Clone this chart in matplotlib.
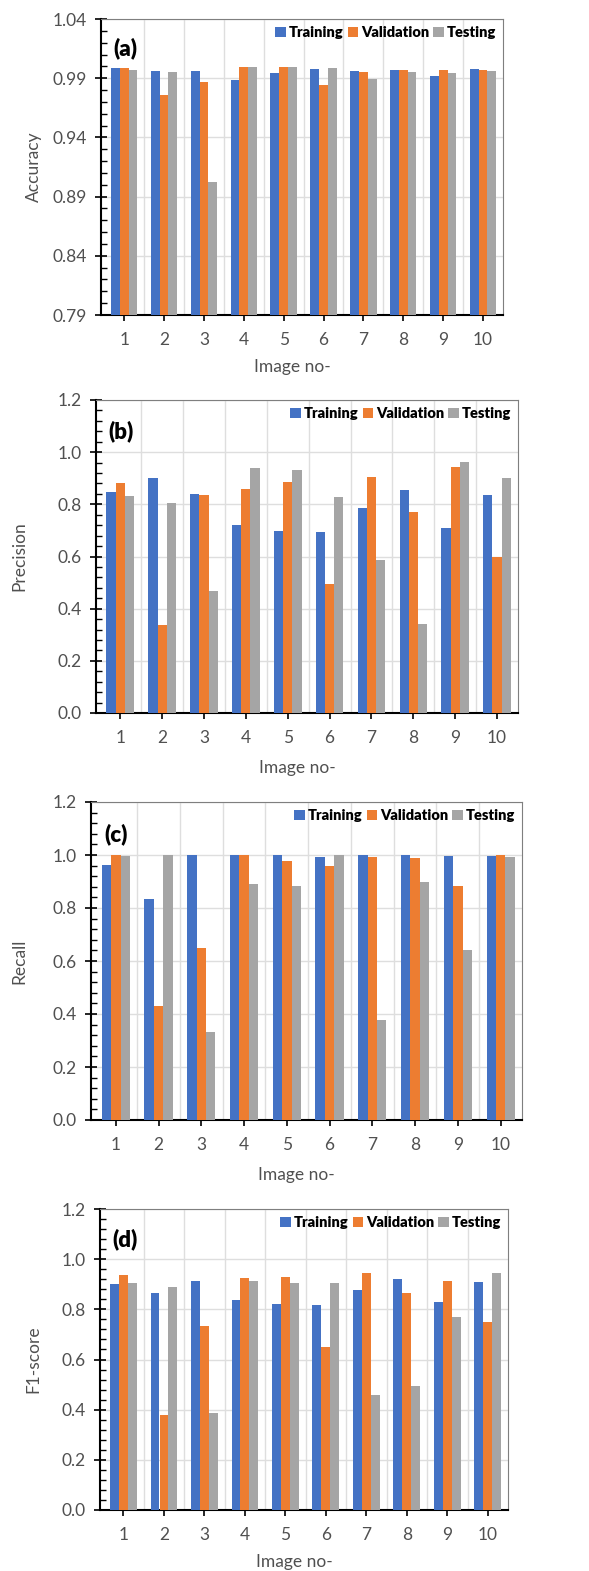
import matplotlib.pyplot as plt
import numpy as np
from matplotlib.ticker import MultipleLocator, FixedLocator

plt.rcParams['font.family'] = ['Lato', 'DejaVu Sans']

# Data
images = [1, 2, 3, 4, 5, 6, 7, 8, 9, 10]
series_names = ['Training', 'Validation', 'Testing']
colors = ['#4472C4', '#ED7D31', '#A5A5A5']

acc_train = [0.9983, 0.9958, 0.9958, 0.9885, 0.9944, 0.9975, 0.9958, 0.9972, 0.9921, 0.9975]
acc_val = [0.9983, 0.9755, 0.9865, 0.9992, 0.9992, 0.9843, 0.9953, 0.9972, 0.9972, 0.9972]
acc_test = [0.9972, 0.9953, 0.9023, 0.9992, 0.9992, 0.9983, 0.9890, 0.9953, 0.9944, 0.9958]

prec_train = [0.849, 0.900, 0.840, 0.720, 0.697, 0.694, 0.785, 0.855, 0.711, 0.836]
prec_val = [0.881, 0.337, 0.835, 0.859, 0.887, 0.495, 0.904, 0.771, 0.942, 0.600]
prec_test = [0.832, 0.804, 0.466, 0.938, 0.932, 0.830, 0.585, 0.341, 0.961, 0.900]

rec_train = [0.964, 0.834, 1.000, 1.000, 1.000, 0.992, 1.000, 1.000, 0.996, 0.996]
rec_val = [1.000, 0.430, 0.649, 1.000, 0.977, 0.958, 0.992, 0.990, 0.884, 1.000]
rec_test = [0.996, 1.000, 0.333, 0.891, 0.884, 1.000, 0.379, 0.900, 0.643, 0.992]

f1_train = [0.902, 0.864, 0.913, 0.836, 0.823, 0.816, 0.877, 0.922, 0.828, 0.909]
f1_val = [0.936, 0.377, 0.732, 0.925, 0.928, 0.651, 0.944, 0.866, 0.913, 0.751]
f1_test = [0.905, 0.889, 0.387, 0.913, 0.905, 0.905, 0.458, 0.494, 0.768, 0.944]

W, H = 589, 1571
fig = plt.figure(figsize=(W / 100, H / 100), dpi=100)

# panel: (left, right, top, bottom) in pixels, ylabel x px, xlabel y px
panels = [
    ('(a)', 'Accuracy', [acc_train, acc_val, acc_test], (0.79, 1.04, 0.05, 0.01),
     (101, 503, 19, 315), 34, 367),
    ('(b)', 'Precision', [prec_train, prec_val, prec_test], (0.0, 1.2, 0.2, 0.04),
     (96, 518, 400, 713), 19, 768),
    ('(c)', 'Recall', [rec_train, rec_val, rec_test], (0.0, 1.2, 0.2, 0.04),
     (91, 522, 802, 1120), 19, 1175),
    ('(d)', 'F1-score', [f1_train, f1_val, f1_test], (0.0, 1.2, 0.2, 0.04),
     (100, 508, 1209, 1510), 33, 1562),
]

x = np.array(images)
bw = 0.22
txt_color = '#505050'

for tag, ylab, vals, (ymin, ymax, step, mstep), (l, r, t, b), ylx, xly in panels:
    ax = fig.add_axes([l / W, 1 - b / H, (r - l) / W, (b - t) / H])
    for i, (name, v, c) in enumerate(zip(series_names, vals, colors)):
        ax.bar(x + (i - 1) * bw, v, width=bw, color=c, label=name, zorder=3)
    ax.set_xlim(0.42, 10.5)
    ax.set_ylim(ymin, ymax)
    ax.set_xticks(x)
    ax.set_yticks(np.round(np.arange(ymin, ymax + 1e-9, step), 2))
    ax.yaxis.set_minor_locator(MultipleLocator(mstep))
    ax.xaxis.set_minor_locator(FixedLocator(np.arange(1.5, 10, 1)))
    if ymin > 0:
        ax.set_yticklabels([f'{v:.2f}' for v in ax.get_yticks()])
    else:
        ax.set_yticklabels([f'{v:.1f}' for v in ax.get_yticks()])
    ax.grid(True, which='major', axis='y', color='#dedede', lw=1, zorder=0)
    ax.grid(True, which='minor', axis='x', color='#dedede', lw=1, zorder=0)
    ax.tick_params(axis='both', which='major', direction='inout', length=8, width=1.2,
                   labelsize=12.5, labelcolor=txt_color)
    ax.tick_params(axis='y', which='minor', direction='in', length=4, width=1.0)
    ax.tick_params(axis='x', which='minor', length=0)
    ax.tick_params(axis='x', pad=8)
    ax.tick_params(axis='y', pad=6)
    for s in ['left', 'bottom']:
        ax.spines[s].set_linewidth(1.5)
        ax.spines[s].set_color('black')
    for s in ['top', 'right']:
        ax.spines[s].set_linewidth(0.8)
        ax.spines[s].set_color('#7f7f7f')
    ax.text(0.03, 0.9, tag, transform=ax.transAxes, fontsize=16, fontweight='heavy',
            ha='left', va='center')
    leg = ax.legend(loc='upper right', ncol=3, frameon=False,
                    handlelength=0.7, handleheight=0.7, handletextpad=0.2,
                    columnspacing=0.3, borderaxespad=0.2, borderpad=0.3,
                    prop={'weight': 'heavy', 'size': 10.5})
    fig.text(ylx / W, 1 - ((t + b) / 2) / H, ylab, rotation=90, ha='center',
             va='center', fontsize=12.5, color=txt_color)
    fig.text(((l + r) / 2 - 10) / W, 1 - xly / H, 'Image no-', ha='center', va='center',
             fontsize=12.5, color=txt_color)

fig.savefig('out.png', dpi=100)
